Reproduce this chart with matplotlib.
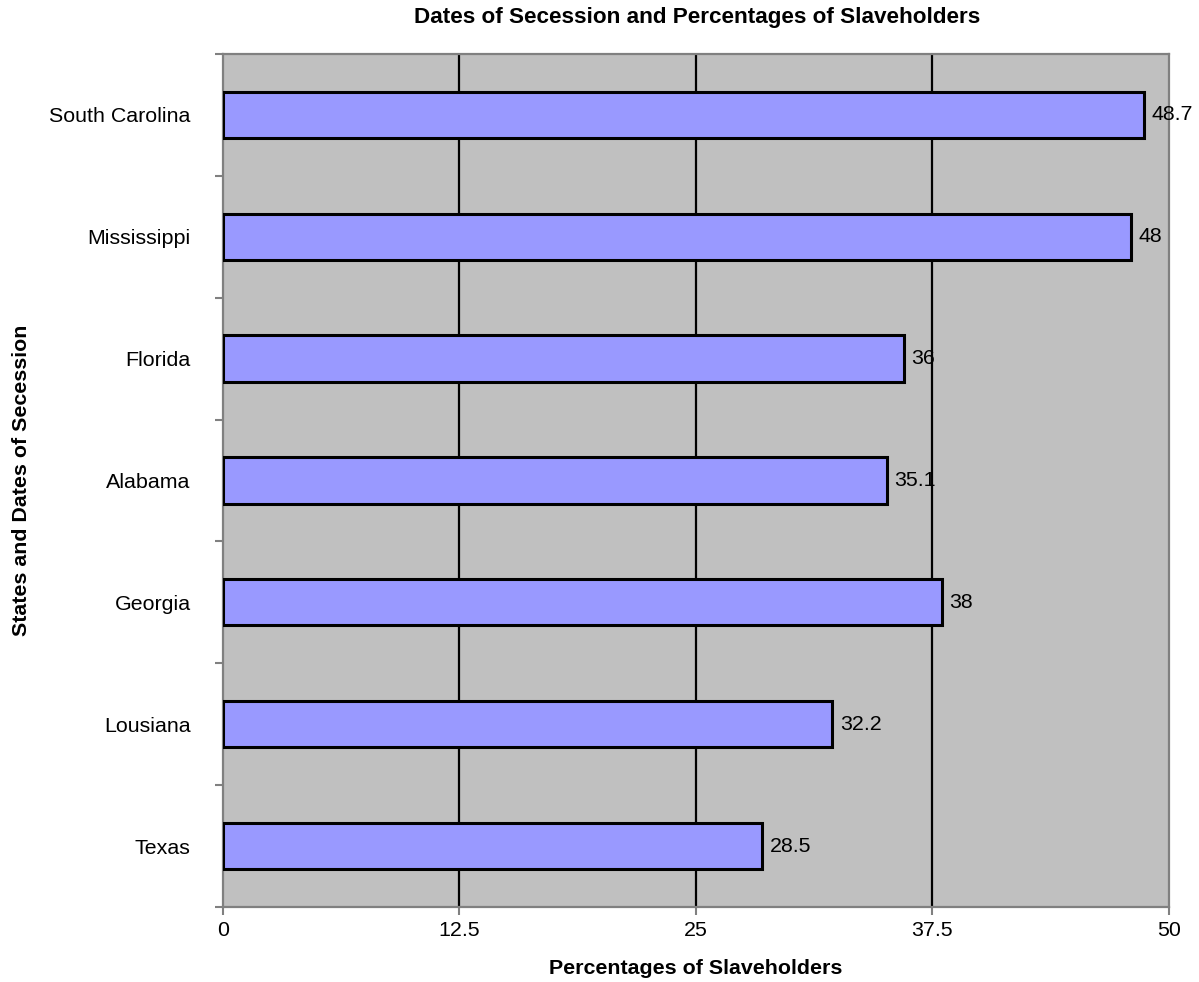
import matplotlib.pyplot as plt
import numpy as np

plt.rcParams['font.family'] = ['Liberation Sans', 'DejaVu Sans']

states = ['South Carolina', 'Mississippi', 'Florida', 'Alabama', 'Georgia', 'Lousiana', 'Texas']
percentages = [48.7, 48, 36, 35.1, 38, 32.2, 28.5]
value_labels = ['48.7', '48', '36', '35.1', '38', '32.2', '28.5']
xticks = [0, 12.5, 25, 37.5, 50]
xtick_labels = ['0', '12.5', '25', '37.5', '50']

fs = 15.4

fig = plt.figure(figsize=(11.99, 9.82), dpi=100)
ax = fig.add_axes([0.1857, 0.0764, 0.975 - 0.1857, 0.945 - 0.0764])
ax.set_facecolor('#c0c0c0')

# top to bottom
pos = np.arange(len(states))[::-1]
ax.barh(pos, percentages, height=0.38, color='#9999ff', edgecolor='black', linewidth=2.2, zorder=3)
for y, v, lab in zip(pos, percentages, value_labels):
    ax.text(v + 0.4, y, lab, va='center', ha='left', fontsize=fs, zorder=4)

ax.set_xlim(0, 50)
ax.set_ylim(-0.5, len(states) - 0.5)
ax.set_xticks(xticks)
ax.set_xticklabels(xtick_labels, fontsize=fs)
ax.set_yticks(pos)
ax.set_yticklabels(states, fontsize=fs)
ax.set_yticks(np.arange(-0.5, len(states)), minor=True)

ax.tick_params(axis='y', which='major', length=0, pad=23)
ax.tick_params(axis='y', which='minor', length=5.5, width=1.5, color='#808080', direction='out')
ax.tick_params(axis='x', length=6, width=1.5, color='#808080', pad=4)

for x in xticks[1:-1]:
    ax.axvline(x, color='black', linewidth=1.6, zorder=2)

for s in ax.spines.values():
    s.set_color('#808080')
    s.set_linewidth(1.6)

fig.text(0.5815, 1 - 18 / 982, 'Dates of Secession and Percentages of Slaveholders',
         fontsize=16.2, fontweight='bold', ha='center', va='center')
fig.text(0.5805, 1 - 968 / 982, 'Percentages of Slaveholders',
         fontsize=fs, fontweight='bold', ha='center', va='center')
fig.text(22 / 1199, 1 - 480 / 982, 'States and Dates of Secession',
         fontsize=fs, fontweight='bold', ha='center', va='center', rotation=90)

fig.savefig('out.png', dpi=100)
